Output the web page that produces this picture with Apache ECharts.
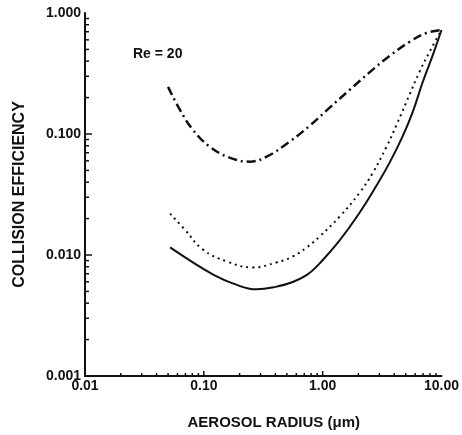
<!DOCTYPE html>
<html>
<head>
<meta charset="utf-8">
<script src="https://cdn.jsdelivr.net/npm/echarts@6/dist/echarts.min.js"></script>
<style>html,body{margin:0;padding:0;background:#fff;}#chart{width:462px;height:435px;}</style>
</head>
<body>
<div id="chart"></div>
<script>
// Aerosol radius (µm) and collision efficiency values
const dashDotX = [0.05, 0.063, 0.081, 0.112, 0.165, 0.244, 0.338, 0.528, 0.778, 1.145, 1.69, 2.48, 3.66, 5.38, 7.48, 10];
const dashDotY = [0.245, 0.158, 0.108, 0.0786, 0.0638, 0.0591, 0.065, 0.0864, 0.117, 0.165, 0.232, 0.323, 0.442, 0.577, 0.684, 0.724];

const dottedX = [0.052, 0.069, 0.098, 0.156, 0.258, 0.41, 0.56, 0.734, 0.944, 1.39, 2.05, 2.63, 3.45, 4.19, 5.38, 6.53, 7.93, 10];
const dottedY = [0.022, 0.01626, 0.01112, 0.00885, 0.0079, 0.00869, 0.00973, 0.01155, 0.01423, 0.0208, 0.0328, 0.0475, 0.0786, 0.1193, 0.211, 0.3263, 0.477, 0.724];

const solidX = [0.052, 0.0808, 0.119, 0.175, 0.279, 0.41, 0.56, 0.748, 0.944, 1.39, 2.05, 2.84, 3.66, 4.70, 5.70, 6.92, 8.40, 10];
const solidY = [0.01155, 0.00869, 0.00692, 0.00583, 0.0052, 0.00548, 0.00598, 0.00692, 0.00853, 0.01319, 0.02245, 0.0375, 0.058, 0.095, 0.15, 0.265, 0.442, 0.724];

// Axis ticks and labels
const xMajorTicks = [0.1, 1];
const yMajorTicks = [0.01, 0.1];
const xMinorTicks = [0.02, 0.03, 0.04, 0.05, 0.06, 0.07, 0.08, 0.09,
                     0.2, 0.3, 0.4, 0.5, 0.6, 0.7, 0.8, 0.9,
                     2, 3, 4, 5, 6, 7, 8, 9];
const yMinorTicks = [0.002, 0.003, 0.004, 0.005, 0.006, 0.007, 0.008, 0.009,
                     0.02, 0.03, 0.04, 0.05, 0.06, 0.07, 0.08, 0.09,
                     0.2, 0.3, 0.4, 0.5, 0.6, 0.7, 0.8, 0.9];
const xTickLabels = {0.01: '0.01', 0.1: '0.10', 1: '1.00', 10: '10.00'};
const yTickLabels = {0.001: '0.001', 0.01: '0.010', 0.1: '0.100', 1: '1.000'};

const X_MIN = 0.01, X_MAX = 10, Y_MIN = 0.001, Y_MAX = 1;

const zip = (xs, ys) => xs.map((x, i) => [x, ys[i]]);
const font = '"Liberation Sans", Arial, sans-serif';
const ink = '#111';

function lbl(map, v) {
  for (const k in map) { if (Math.abs(Math.log10(v) - Math.log10(+k)) < 1e-6) return map[k]; }
  return '';
}
function tickSeries(values, isX, len) {
  return {
    type: 'custom', coordinateSystem: 'cartesian2d', silent: true, clip: false,
    data: values.map(v => isX ? [v, Y_MIN] : [X_MIN, v]),
    renderItem: function (params, api) {
      const p = api.coord([api.value(0), api.value(1)]);
      return {
        type: 'line',
        shape: isX ? {x1: p[0], y1: p[1], x2: p[0], y2: p[1] - len}
                   : {x1: p[0], y1: p[1], x2: p[0] + len, y2: p[1]},
        style: {stroke: ink, lineWidth: 1.5}
      };
    }
  };
}

const chart = echarts.init(document.getElementById('chart'), null, {renderer: 'canvas'});
chart.setOption({
  animation: false,
  backgroundColor: '#fff',
  grid: {left: 85, right: 20, top: 13, bottom: 58},
  xAxis: {
    type: 'log', logBase: 10, min: X_MIN, max: X_MAX,
    name: 'AEROSOL RADIUS (μm)', nameLocation: 'middle', nameGap: 39,
    nameTextStyle: {fontFamily: font, fontWeight: 'bold', fontSize: 15, color: ink, padding: [0, 0, 0, 21]},
    axisLine: {show: true, lineStyle: {color: ink, width: 2}},
    axisTick: {show: false}, minorTick: {show: false},
    splitLine: {show: false}, minorSplitLine: {show: false},
    axisLabel: {fontFamily: font, fontWeight: 'bold', fontSize: 14, color: ink, margin: 3,
      formatter: v => lbl(xTickLabels, v)}
  },
  yAxis: {
    type: 'log', logBase: 10, min: Y_MIN, max: Y_MAX,
    name: 'COLLISION EFFICIENCY', nameLocation: 'middle', nameGap: 57,
    nameTextStyle: {fontFamily: font, fontWeight: 'bold', fontSize: 16, color: ink},
    axisLine: {show: true, lineStyle: {color: ink, width: 2}},
    axisTick: {show: false}, minorTick: {show: false},
    splitLine: {show: false}, minorSplitLine: {show: false},
    axisLabel: {fontFamily: font, fontWeight: 'bold', fontSize: 14, color: ink, margin: 4,
      formatter: v => lbl(yTickLabels, v)}
  },
  graphic: [{
    type: 'text', left: 133, top: 47,
    style: {text: 'Re = 20', fontFamily: font, fontWeight: 'bold', fontSize: 14, fill: ink}
  }],
  series: [
    {type: 'line', data: zip(dashDotX, dashDotY), smooth: 0.4, showSymbol: false,
      lineStyle: {color: ink, width: 2.5, type: [9, 4, 2, 4]}},
    {type: 'line', data: zip(dottedX, dottedY), smooth: 0.45, showSymbol: false,
      lineStyle: {color: ink, width: 2, type: [2, 4]}},
    {type: 'line', data: zip(solidX, solidY), smooth: 0.45, showSymbol: false,
      lineStyle: {color: ink, width: 2}},
    tickSeries(xMinorTicks, true, 3),
    tickSeries(yMinorTicks, false, 4),
    tickSeries(xMajorTicks, true, 5),
    tickSeries(yMajorTicks, false, 7)
  ]
});
</script>
</body>
</html>
